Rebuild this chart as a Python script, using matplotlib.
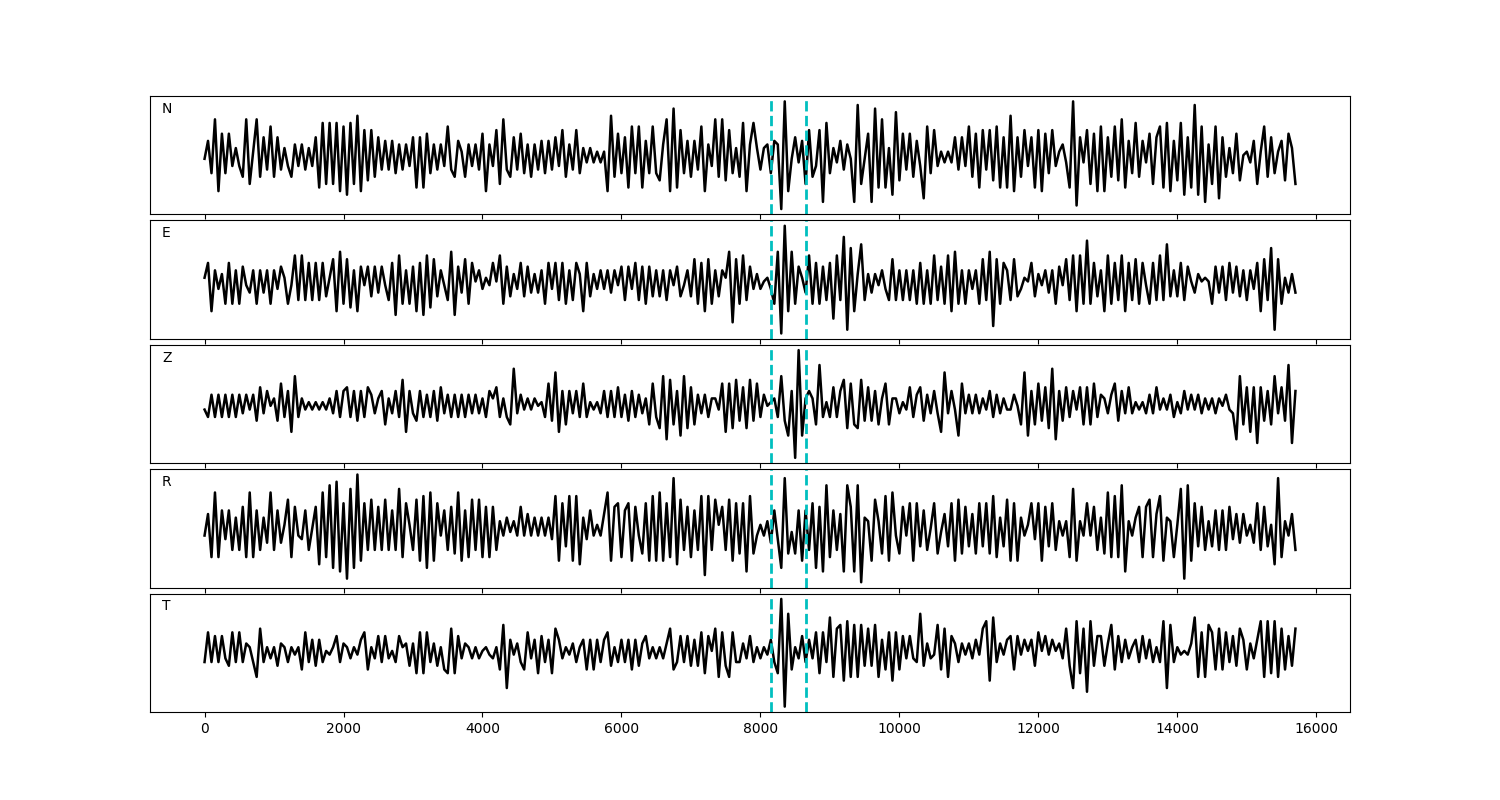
import numpy as np
import matplotlib
matplotlib.use("Agg")
import matplotlib.pyplot as plt

# sample spacing of the traces (x units)
dt = 50
labels = ["N", "E", "Z", "R", "T"]
pick_times = [8150, 8650]

N_vals = [
    0, 5, -4, 11, -9, 7, -4, 7, -2, 3,
    -2, -5, 11, -7, 2, 11, -5, 6, -3, 9,
    -5, 6, -3, 3, -2, -5, 4, -2, 4, -3,
    3, -2, 6, -8, 10, -7, 10, -7, 10, -9,
    9, -10, 10, -7, 12, -9, 8, -6, 8, -5,
    6, -3, 5, -3, 5, -4, 4, -3, 4, -2,
    6, -8, 6, -8, 7, -4, 4, -3, 4, -2,
    9, -3, -5, 5, 2, -5, 4, -2, 4, -3,
    7, -9, 4, -2, 8, -7, 11, -3, -5, 6,
    -3, 7, -4, 4, -5, 4, -3, 5, -4, 5,
    -3, 6, -2, 8, -5, 4, -3, 8, -4, 3,
    -1, 3, -1, 2, -1, 2, -9, 12, -5, 7,
    -4, 6, -8, 9, -4, 9, -8, 5, -4, 9,
    -4, -6, 4, 11, -9, 14, -8, 8, -4, 5,
    -5, 5, -3, 9, -9, 4, -2, 11, -5, 11,
    -6, 8, -4, 3, -5, 10, -9, 4, 10,
    3, -3, 3, 4, -4, 5, 4, -14, 16, -9,
    0, 6, -1, 5, -7, 8, -5, -2, 8, -12,
    10, -4, 3, -1, 5, -3, 4, 0, -12, 15,
    -7, 0, 7, -12, 14, -8, 11, -8, 3, -10,
    13, -6, 7, -3, 7, -5, 5, -2, -11, 9,
    -4, 8, -2, 2, -1, 2, -1, 6, -3, 6,
    -2, 9, -5, 7, -8, 8, -3, 8, -6, 9,
    -8, 6, -8, 12, -9, 6, -5, 8, -2, 6,
    -8, 8, -9, 7, -4, 8, -2, 2, 4, -1,
    -8, 16, -13, 6, -1, 8, -7, 7, -9, 9,
    -9, 6, -5, 9, -6, 11, -8, 5, -4, 10,
    -5, 5, -1, 7, -7, 6, 9, -8, 10, -9,
    5, -6, 10, -10, 6, -8, 15, -10, 9, -12,
    4, -7, 9, -11, 6, -5, 3, -4, 7, -6,
    1, 2, -1, 5, -7, 2, 9, -5, 6, -4,
    2, 5, -6, 7, 3, -7,
]

E_vals = [
    1, 5, -8, 3, -2, 2, -6, 5, -6, 3,
    -6, 4, -1, -3, 3, -6, 3, -3, 3, -6,
    3, -2, 4, 1, -6, -1, 7, -5, 7, -5,
    5, -5, 5, -5, 5, -4, 1, 6, -8, 8,
    -6, 6, -7, 3, -8, 4, -1, 4, -4, 4,
    -3, 4, -1, -5, 5, -9, 7, -6, 3, -6,
    4, -8, 5, -9, 7, -7, 6, -4, 3, -1,
    -5, 8, -9, 4, -3, 6, -6, 5, 0, 3,
    -2, 1, -1, 5, 0, 7, -6, 4, -4, 2,
    -2, 5, -4, 4, -3, 2, -3, 3, -6, 5,
    -2, 5, -5, 5, -6, 3, -5, 5, 2, -8,
    5, -4, 2, -2, 3, -2, 3, -3, 3, -1,
    4, -5, 4, -2, 5, -5, 4, -6, 4, -4,
    3, -4, 3, -5, 3, -1, 4, -4, -1, 3,
    -4, 6, -6, 5, -8, 6, -6, 3, -4, 3,
    1, 8, -11, 6, -6, 7, -5, 4, -2,
    2, -2, 0, 1, -2, -6, 8, -14, 15, -8,
    8, -6, 4, 1, -3, 7, -6, 5, -6, 4,
    -5, 5, -10, 7, -5, 12, -13, 9, -8, 2,
    10, -5, 2, -3, 2, -1, 3, -2, -5, 6,
    -5, 3, -5, 3, -5, 3, -6, 5, -6, 3,
    -6, 7, -5, 4, -6, 7, -8, 8, -6, 3,
    -6, 3, -2, 3, -6, 6, -5, 8, -12, 6,
    -6, 5, 3, -5, 6, -4, -2, 1, 0, 5,
    -4, 2, -1, 3, -3, 3, -6, 4, -1, 6,
    -5, 7, -8, 7, -6, 11, -6, 5, -4, 3,
    -8, 7, -6, 5, -5, 7, -8, 5, -5, 6,
    -6, 5, -1, -6, 5, -5, 7, -5, 10, -4,
    3, -4, 5, -5, 4, 0, -3, 2, 0, 1,
    0, -6, 4, -3, 4, -5, 5, -3, 4, -4,
    3, -5, 3, -2, 5, -8, 6, -5, 9, -13,
    6, -6, 1, -3, 2, -3,
]

Z_vals = [
    -1, -3, 3, -3, 3, -3, 3, -3, 3, -3,
    3, -2, 3, -1, 3, -4, 5, -2, 4, 0,
    2, -4, 6, -3, 4, -7, 8, -3, 2, -1,
    1, -1, 1, -1, 1, -1, 2, -2, 4, -3,
    4, 5, -3, 4, -4, 4, -3, 5, 3, -2,
    2, 4, -5, 2, -2, 4, -3, 7, -7, 4,
    -2, -4, 4, -3, 3, -3, 4, -4, 5, -2,
    3, -3, 3, -3, 3, -3, 3, -2, 3, -2,
    2, -3, 4, 2, 5, -3, 2, -3, -5, 10,
    -2, 3, -1, 2, -1, 2, 0, 1, -3, 6,
    -4, 9, -7, 4, -5, 4, -2, 4, -3, 6,
    -3, 1, -1, 1, -2, 4, -3, 4, -3, 5,
    -3, 3, -4, 4, -3, 3, -2, 2, -5, 6,
    -3, -6, 8, -9, 7, -5, 4, -8, 8, -6,
    5, -5, 3, -2, 3, -3, 2, 2, -1, 6,
    -7, 6, -6, 7, -4, 5, -6, 7, -4,
    6, -3, 3, 0, 1, 2, -3, 8, -4, -8,
    4, -14, 15, -8, 2, 4, 2, -5, 11, -3,
    1, -3, 5, -3, 4, 7, -6, 6, -5, -6,
    7, -4, 5, -4, 4, -5, 2, 6, -5, 2,
    2, -2, 1, -1, 5, -3, 3, 5, -4, 3,
    -2, 4, -2, -7, 9, -2, 4, -1, -8, 6,
    -2, 3, -2, 3, -2, 2, -1, 4, -3, 3,
    -2, 2, -1, -1, 3, 0, -5, 9, -8, 4,
    -5, 6, -4, 5, -6, 10, -9, 4, -4, 5,
    -3, 4, -1, 5, -5, 5, -5, 6, -3, 3,
    2, -2, 3, 6, -4, 4, -2, 5, -2, 1,
    -1, 1, -2, 3, -2, 5, -1, 2, -1, 3,
    -3, 1, -2, 4, -1, 3, -1, 3, -2, 2,
    -1, 2, -2, 2, 0, 3, -1, -2, -9, 8,
    -5, 5, -7, 5, -10, 5, -4, 4, -5, 8,
    -2, 5, -4, 11, -10, 4,
]

R_vals = [
    -1, 5, -7, 11, -7, 6, -2, 6, -5, 4,
    -5, 7, -7, 11, -7, 6, -5, 4, -3, 11,
    -5, 6, -3, 2, 9, -7, 7, -1, -2, 6,
    -5, 1, 7, -9, 11, -7, 13, -10, 14, -11,
    8, -13, 12, -10, 16, -8, 8, -5, 9, -5,
    7, -5, 9, -5, 6, -5, 12, -7, 8, 2,
    -5, 9, -8, 10, -10, 11, -8, 8, -1, 6,
    -5, 7, -6, 11, -8, 6, -7, 9, -5, 9,
    -7, 7, -7, 7, -5, 3, -1, 4, 0, 3,
    -1, 7, -1, 5, -1, 4, -1, 4, -1, 4,
    -2, 10, -8, 8, -4, 10, -8, 10, -9, 4,
    -2, 6, -1, 2, -1, 5, 11, -8, 7, 8,
    -7, 6, 8, -8, 7, -1, -6, 8, -8, 10,
    -8, 11, -8, 8, -7, 15, -9, 9, -5, 7,
    -7, 6, -5, 10, -12, 10, -5, 9, 2, 7,
    -5, 9, -8, 8, -6, 8, -11, 10, -6,
    -1, 2, -1, 3, -3, 6, -2, -10, 15, -6,
    0, -6, 6, -8, 6, -5, 8, -10, 7, -11,
    13, -7, 6, -5, 5, -11, 13, 7, -11, 13,
    -14, 4, 3, -8, 9, 3, -6, 10, -8, 11,
    -1, -6, 7, -1, 8, -8, 8, -4, 6, -5,
    1, 8, -6, 0, 5, -4, 8, -8, 9, -6,
    7, -4, 5, -6, 8, -4, 8, -6, 10, -7,
    4, -4, 9, -8, 8, -8, 4, -1, 2, 8,
    -2, 8, -8, 7, -4, 8, -5, 3, -1, 3,
    -7, 12, -8, 3, -1, 8, -1, 7, -5, 4,
    -6, 11, -7, 10, -7, 13, -11, 3, -1, 4,
    7, -7, 7, 9, -7, 5, 10, -8, 4, 3,
    -7, 2, 12, -13, 13, -8, 8, -4, 7, -5,
    3, -4, 6, -5, 6, -5, 7, -2, 5, -3,
    5, -1, 2, -3, 8, -5, 7, -4, 2, -9,
    15, -7, 3, -1, 5, -5,
]

T_vals = [
    -2, 6, -2, 5, -2, 5, -1, -3, 6, -2,
    6, -2, 3, 2, -2, -6, 7, -2, 2, -1,
    2, -3, 3, 2, -2, 2, 0, 2, -4, 6,
    -2, 4, -3, 4, -2, 1, 0, 2, 5, -2,
    3, 2, -1, 2, 0, 4, 6, -4, 2, -1,
    5, -2, 5, -1, 1, -2, 5, 2, 3, -3,
    3, -5, 6, -5, 6, -2, 3, -3, 2, -4,
    -5, 7, -5, 5, -1, 3, 2, -1, 2, -1,
    1, 2, 0, -1, 2, -4, 8, -9, 4, 0,
    3, -2, -4, 6, -1, 4, -5, 5, -2, 4,
    -5, 7, 4, -1, 2, 0, 3, -2, 2, 4,
    -4, 4, -4, 4, -2, 4, 6, -3, 2, -2,
    4, -2, 4, -4, 4, -3, 3, 5, -1, 2,
    -1, 2, -1, 3, 7, -4, -2, 5, -2, 5,
    -3, 4, -3, 6, -5, 5, 1, 7, -6, 6,
    -3, -6, 6, -2, -2, 3, -1, 5, -2,
    2, -1, 2, 0, 4, -2, -5, 15, -14, 11,
    -4, 2, -1, 5, -2, 4, -1, 6, -5, 6,
    -2, 10, -6, 7, 8, -7, 9, -6, 8, -6,
    8, -3, 7, -3, 8, -6, 4, -4, 6, -7,
    6, -4, 5, -1, 5, -1, -2, 11, -3, 3,
    -1, 0, 8, -4, 7, -6, 5, 3, -2, 3,
    0, 3, -1, 4, 0, 7, 9, -7, 10, -2,
    3, 0, 4, 5, -4, 5, 0, 4, 1, 4,
    -3, 6, 1, 5, 0, 4, 1, 3, -1, 7,
    -3, -9, 9, -5, 7, -10, 9, -3, 5, 5,
    -3, 3, 8, -4, 5, -2, 4, -1, 2, 4,
    -2, 5, -1, 4, -2, 2, -2, 9, -9, 8,
    -2, 2, 0, 1, 0, 3, 10, -6, 6, -6,
    8, 6, -4, 7, -4, 6, -2, 5, -3, 7,
    4, -4, 3, -1, 4, 9, -6, 9, -5, 9,
    -6, 7, -4, 5, -3, 7,
]

traces = [N_vals, E_vals, Z_vals, R_vals, T_vals]

fig, axes = plt.subplots(5, 1, figsize=(15, 8), dpi=100, sharex=True)
fig.subplots_adjust(left=0.1, right=0.9, top=0.88, bottom=0.11, hspace=0.05)

for ax, lab, vals in zip(axes, labels, traces):
    t = np.arange(len(vals)) * dt
    ax.plot(t, vals, color="k", lw=1.8)
    for p in pick_times:
        ax.axvline(p, color="c", ls="--", lw=2)
    ax.set_yticks([])
    ax.text(0.01, 0.95, lab, transform=ax.transAxes, va="top", ha="left",
            fontsize=10)

fig.savefig("out.png")
